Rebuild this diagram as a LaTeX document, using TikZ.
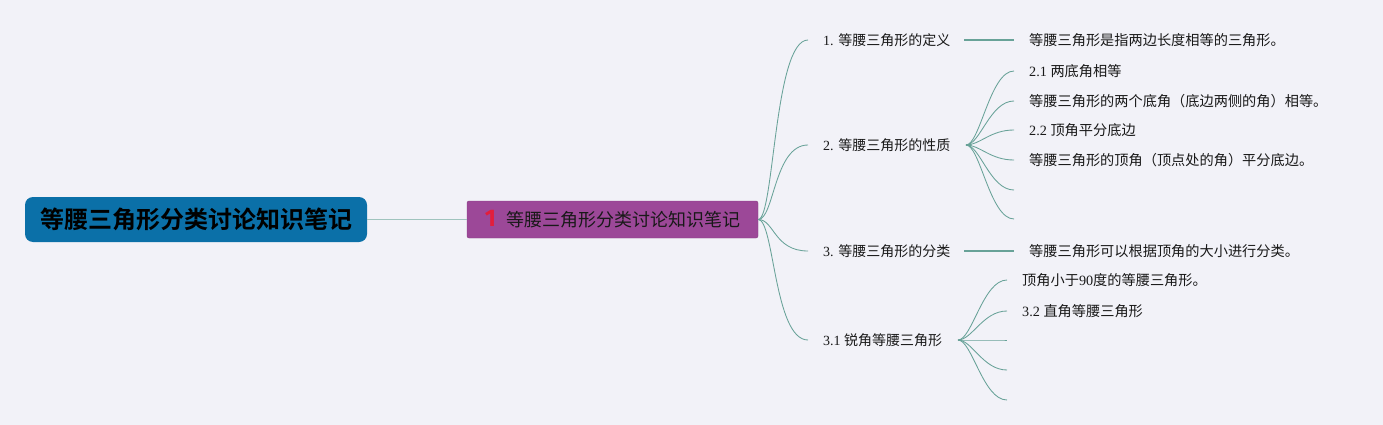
\documentclass[tikz,border=0pt]{standalone}
\usepackage{fontspec}
\setmainfont{Liberation Serif}
\newfontfamily\cjk{Noto Sans CJK SC}
\newfontfamily\cjkbold{Noto Sans CJK SC Bold}
\newfontfamily\numfont{Fira Sans}
\newcommand{\zh}[1]{{\cjk #1}}
\definecolor{bgc}{RGB}{242,242,248}
\definecolor{rootblue}{RGB}{11,112,168}
\definecolor{mainpurple}{RGB}{156,72,152}
\definecolor{numred}{RGB}{226,30,60}
\definecolor{linkc}{RGB}{104,162,152}
\definecolor{rootlink}{RGB}{160,196,190}
\begin{document}
\begin{tikzpicture}[x=1pt,y=-1pt,
  rootbox/.style={fill=rootblue,rounded corners=8pt,minimum width=342pt,minimum height=45pt,inner sep=0pt,font=\cjkbold\fontsize{24}{27}\selectfont,text=black},
  mainbox/.style={fill=mainpurple,draw=mainpurple!85!black,line width=0.4pt,rounded corners=2pt,minimum width=291pt,minimum height=37pt,inner sep=0pt,font=\cjk\fontsize{18}{21}\selectfont,text=black!90},
  lvone/.style={anchor=west,inner sep=0pt,font=\fontsize{14}{16}\selectfont,text=black!90},
  lvtwo/.style={anchor=west,inner sep=0pt,font=\fontsize{14.2}{16}\selectfont,text=black!90},
  link/.style={draw=linkc,line width=0.85pt},
  rlink/.style={draw=rootlink,line width=1.3pt}
]
\useasboundingbox (0,0) rectangle (1383,425);
\fill[bgc] (0,0) rectangle (1383,425);

% root and main topic
\node[rootbox] (root) at (196,219.5) {等腰三角形分类讨论知识笔记};
\node[mainbox] (main) at (612.5,219.5) {{\numfont\bfseries\fontsize{24}{24}\selectfont\color{numred}1}\hspace{10pt}等腰三角形分类讨论知识笔记};
\draw[rlink] (root.east) -- (main.west);

% level one
\node[lvone] (a1) at (823,40) {1. \zh{等腰三角形的定义}};
\node[lvone] (a2) at (823,145) {2. \zh{等腰三角形的性质}};
\node[lvone] (a3) at (823,251) {3. \zh{等腰三角形的分类}};
\node[lvone] (a4) at (823,340) {3.1 \zh{锐角等腰三角形}};

\coordinate (m) at (main.east);
\foreach \n in {a1,a2,a3,a4}{
  \draw[link] (m) .. controls +(16,0) and +(-34,0) .. ([xshift=-15pt]\n.west);
}

% hubs
\coordinate (h1) at (964,40);
\coordinate (h2) at (966,145);
\coordinate (h3) at (964,251);
\coordinate (h4) at (958,340);

% level two
\node[lvtwo] (b1) at (1029,40) {\zh{等腰三角形是指两边长度相等的三角形。}};
\node[lvtwo] (b21) at (1029,71) {2.1 \zh{两底角相等}};
\node[lvtwo] (b22) at (1029,101) {\zh{等腰三角形的两个底角（底边两侧的角）相等。}};
\node[lvtwo] (b23) at (1029,130) {2.2 \zh{顶角平分底边}};
\node[lvtwo] (b24) at (1029,160) {\zh{等腰三角形的顶角（顶点处的角）平分底边。}};
\coordinate (b25) at (1014,190);
\coordinate (b26) at (1014,219);
\node[lvtwo] (b3) at (1029,251) {\zh{等腰三角形可以根据顶角的大小进行分类。}};
\node[lvtwo] (b41) at (1022,280) {\zh{顶角小于}90\zh{度的等腰三角形。}};
\node[lvtwo] (b42) at (1022,311) {3.2 \zh{直角等腰三角形}};
\coordinate (b43) at (1007,340);
\coordinate (b44) at (1007,370);
\coordinate (b45) at (1007,400);

\draw[link,line width=1.2pt] (h1) -- ([xshift=-15pt]b1.west);
\draw[link,line width=1.2pt] (h3) -- ([xshift=-15pt]b3.west);
\foreach \n in {b21,b22,b23,b24}{
  \draw[link] (h2) .. controls +(14,0) and +(-24,0) .. ([xshift=-15pt]\n.west);
}
\foreach \n in {b25,b26}{
  \draw[link] (h2) .. controls +(14,0) and +(-24,0) .. (\n);
}
\foreach \n in {b41,b42}{
  \draw[link] (h4) .. controls +(14,0) and +(-24,0) .. ([xshift=-15pt]\n.west);
}
\foreach \n in {b43,b44,b45}{
  \draw[link] (h4) .. controls +(14,0) and +(-24,0) .. (\n);
}
\end{tikzpicture}
\end{document}
